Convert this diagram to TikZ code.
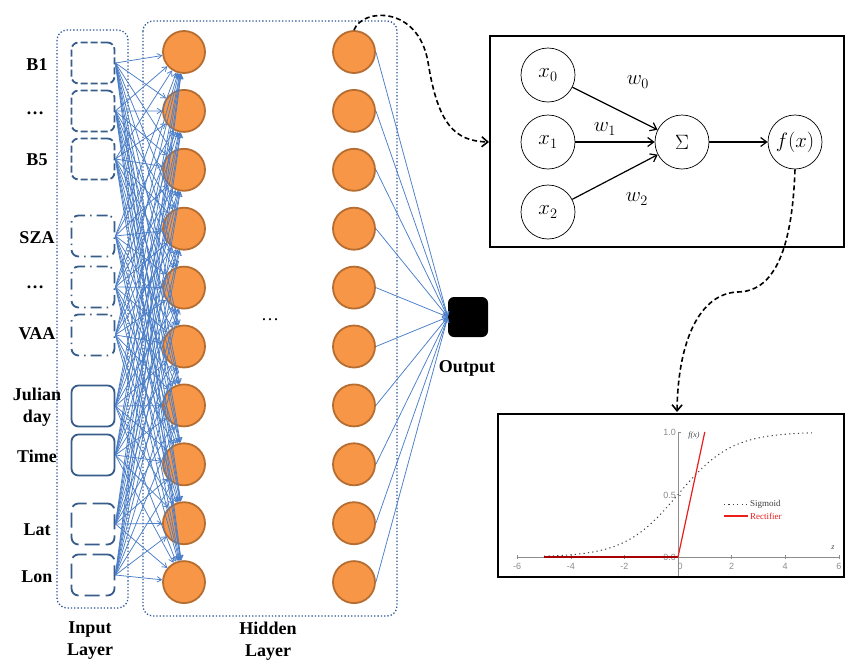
\documentclass[tikz,border=0pt]{standalone}
\usepackage{fontspec}
\setmainfont{Liberation Serif}
\newfontfamily\plotsans{Liberation Sans}
\usetikzlibrary{arrows.meta}

\definecolor{linkblue}{RGB}{74,126,200}
\definecolor{frameblue}{RGB}{47,85,151}
\definecolor{boxblue}{RGB}{56,93,138}
\definecolor{neuronfill}{RGB}{247,150,70}
\definecolor{neurondraw}{RGB}{182,109,49}
\definecolor{axisgray}{RGB}{140,140,140}
\definecolor{relured}{RGB}{235,30,30}

\begin{document}
\begin{tikzpicture}[x=1pt,y=-1pt,
  lbl/.style={font=\fontsize{18}{22}\selectfont\bfseries, align=center, inner sep=0pt},
  neuron/.style={circle, draw=neurondraw, line width=1.8pt, fill=neuronfill, minimum size=42pt, inner sep=0pt},
  inbox/.style={draw=boxblue, line width=1.8pt, rounded corners=7pt, minimum width=43pt, minimum height=41pt, inner sep=0pt},
  dashbox/.style={inbox, dash pattern=on 7pt off 3pt},
  dotdashbox/.style={inbox, dash pattern=on 11pt off 5pt on 1.5pt off 5pt},
  longdashbox/.style={inbox, dash pattern=on 15pt off 6pt},
  link/.style={draw=linkblue, line width=0.75pt, -{Straight Barb[length=4.5pt,width=5.5pt]}},
  group/.style={draw=frameblue, line width=1.3pt, dotted, rounded corners=10pt},
  unit/.style={circle, draw=black, line width=0.7pt, minimum size=54pt, inner sep=0pt, font=\fontsize{22}{26}\selectfont},
  wire/.style={draw=black, line width=1.2pt, -{Straight Barb[length=6pt,width=9pt]}},
  jump/.style={draw=black, line width=1.6pt, dash pattern=on 5pt off 3pt, -{Straight Barb[length=6pt,width=10pt]}},
  frame/.style={draw=black, line width=2.6pt},
  tick/.style={font=\plotsans\fontsize{9}{10}\selectfont, text=axisgray, inner sep=1pt},
]
\useasboundingbox (0,0) rectangle (846,662);
\fill[white] (0,0) rectangle (846,662);

% layer groups
\draw[group] (57,30) rectangle (128,608);
\draw[group] (143,21) rectangle (397,616);

% input units
\node[dashbox] (in1) at (93,63) {};
\node[dashbox] (in2) at (93,111) {};
\node[dashbox] (in3) at (93,159) {};
\node[dotdashbox] (in4) at (93,236) {};
\node[dotdashbox] (in5) at (93,287) {};
\node[dotdashbox] (in6) at (93,335) {};
\node[inbox] (in7) at (93,406) {};
\node[inbox] (in8) at (93,455) {};
\node[longdashbox] (in9) at (93,524) {};
\node[longdashbox] (in10) at (93,575) {};

% input labels
\node[lbl] (lb1) at (37,65) {B1};
\node[lbl] (lb2) at (35,113) {\dots};
\node[lbl] (lb3) at (37,160) {B5};
\node[lbl] (lb4) at (37,238) {SZA};
\node[lbl] (lb5) at (35,287) {\dots};
\node[lbl] (lb6) at (37,334) {VAA};
\node[lbl] (lb7) at (37,407) {Julian\\day};
\node[lbl] (lb8) at (37,456) {Time};
\node[lbl] (lb9) at (37,530) {Lat};
\node[lbl] (lb10) at (37,577) {Lon};

% hidden units
\foreach \k [evaluate=\k as \yy using 52+58.9*(\k-1)] in {1,...,10} {
  \node[neuron] (hL\k) at (184,\yy) {};
  \node[neuron] (hR\k) at (354,\yy) {};
}
\node[font=\fontsize{18}{22}\selectfont] (hdots) at (270,320) {\dots};

% output unit
\node[fill=black, rounded corners=6pt, minimum size=40pt, inner sep=0pt] (out) at (468,317) {};
\node[lbl] (outlbl) at (467,368) {Output};

% connections
\foreach \i in {1,...,10} {
  \foreach \j in {1,...,10} {
    \draw[link] (in\i.east) -- (hL\j);
  }
  \draw[link] (hR\i.east) -- (out.west);
}

% layer captions
\node[lbl] (capin) at (90,641) {Input\\Layer};
\node[lbl] (caphid) at (268,641) {Hidden\\Layer};

% single neuron detail
\draw[frame] (490,36) rectangle (844,247);
\node[unit] (x0) at (548,75) {$x_0$};
\node[unit] (x1) at (548,142) {$x_1$};
\node[unit] (x2) at (548,212) {$x_2$};
\node[unit] (sum) at (682,142) {$\Sigma$};
\node[unit] (fx) at (795,142) {$f(x)$};
\draw[wire] (x0) -- (sum);
\draw[wire] (x1) -- (sum);
\draw[wire] (x2) -- (sum);
\draw[wire] (sum) -- (fx);
\node[font=\fontsize{22}{26}\selectfont] (w0) at (638,82) {$w_0$};
\node[font=\fontsize{22}{26}\selectfont] (w1) at (605,129) {$w_1$};
\node[font=\fontsize{22}{26}\selectfont] (w2) at (637,199) {$w_2$};

% activation plot
\draw[frame] (498,414) rectangle (844,577);
\draw[axisgray, line width=0.8pt] (517,557) -- (839,557);
\draw[axisgray, line width=0.8pt] (678,432) -- (678,576);
\foreach \z in {-6,-4,-2,2,4,6} {
  \draw[axisgray, line width=0.6pt] ({678+26.8*\z},555) -- ({678+26.8*\z},559);
  \node[tick] at ({678+26.8*\z},566) {\z};
}
\node[tick] (t0) at (680,566) {0};
\draw[axisgray, line width=0.6pt] (678,432) -- (681,432);
\draw[axisgray, line width=0.6pt] (678,495) -- (681,495);
\node[tick, anchor=east] (t10) at (677,432) {1.0};
\node[tick, anchor=east] (t05) at (677,495) {0.5};
\node[tick, anchor=east] (t00) at (677,557) {0.0};
\node[font=\fontsize{8}{9}\selectfont\itshape, text=black!75] (fxl) at (694,436) {f(x)};
\node[font=\fontsize{8}{9}\selectfont\itshape, text=black!75] (zl) at (833,548) {z};
\draw[black!75, line width=1pt, dash pattern=on 1.2pt off 3.2pt]
  plot[domain=-5:5, samples=90, smooth] ({678+26.8*\x},{557-125/(1+exp(-\x))});
\draw[red!65!black, line width=1.2pt] (544,557) -- (678,557);
\draw[relured, line width=1.2pt] (678,557) -- (704.8,432);
\draw[black!75, line width=1pt, dash pattern=on 1.2pt off 3.2pt] (724,504) -- (748,504);
\node[font=\fontsize{9}{10}\selectfont, text=black!75, anchor=west, inner sep=1pt] (lg1) at (749,504) {Sigmoid};
\draw[relured, line width=1.2pt] (724,516) -- (748,516);
\node[font=\fontsize{9}{10}\selectfont, text=relured, anchor=west, inner sep=1pt] (lg2) at (749,516) {Rectifier};

% links between the panels
\coordinate (pin) at (489,142);
\coordinate (plotin) at (677,412);
\draw[jump] (hR1.north) .. controls (362,8) and (418,5) .. (428,62)
  .. controls (438,125) and (455,141) .. (pin);
\draw[jump] (fx.south) .. controls (792,255) and (772,292) .. (737,292)
  .. controls (700,294) and (678,340) .. (plotin);
\end{tikzpicture}
\end{document}
